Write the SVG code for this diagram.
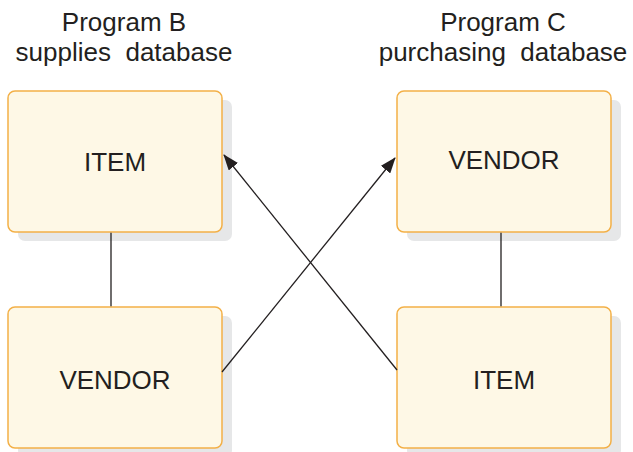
<svg xmlns="http://www.w3.org/2000/svg" width="633" height="452" viewBox="0 0 633 452">
<style>
.shadow{fill:#e6e7e8;stroke:none}
.box{fill:#fef8e6;stroke:#f3b047;stroke-width:1.5}
.lbl{font-family:"Liberation Sans",Arial,sans-serif;font-size:26px;fill:#231f20;text-anchor:middle}
.ln{stroke:#231f20;stroke-width:1.3;fill:none}
</style>
<defs>
<marker id="ah" markerWidth="16" markerHeight="12" viewBox="0 0 16 12" refX="15" refY="6" orient="auto" markerUnits="userSpaceOnUse">
<path d="M0,0 L16,6 L0,12 Z" fill="#231f20"/>
</marker>
</defs>
<g id="headers">
<text class="lbl" x="124" y="31">Program B</text>
<text class="lbl" x="124" y="61" xml:space="preserve">supplies  database</text>
<text class="lbl" x="503" y="31">Program C</text>
<text class="lbl" x="503" y="61" xml:space="preserve">purchasing  database</text>
</g>
<g id="b-item">
<rect class="shadow" x="18" y="100" width="214" height="141" rx="7"/>
<rect class="box" x="8" y="91" width="214" height="141" rx="7"/>
<text class="lbl" x="115" y="171">ITEM</text>
</g>
<g id="c-vendor">
<rect class="shadow" x="407" y="100" width="214" height="141" rx="7"/>
<rect class="box" x="397" y="91" width="214" height="141" rx="7"/>
<text class="lbl" x="504" y="169">VENDOR</text>
</g>
<g id="b-vendor">
<rect class="shadow" x="18" y="316" width="214" height="141" rx="7"/>
<rect class="box" x="8" y="307" width="214" height="141" rx="7"/>
<text class="lbl" x="115" y="389">VENDOR</text>
</g>
<g id="c-item">
<rect class="shadow" x="407" y="316" width="214" height="141" rx="7"/>
<rect class="box" x="397" y="307" width="214" height="141" rx="7"/>
<text class="lbl" x="504" y="389">ITEM</text>
</g>
<g id="connectors">
<line class="ln" x1="111" y1="232.8" x2="111" y2="306.2"/>
<line class="ln" x1="501" y1="232.8" x2="501" y2="306.2"/>
<line class="ln" x1="222" y1="372" x2="395" y2="158" marker-end="url(#ah)"/>
<line class="ln" x1="397" y1="370" x2="224" y2="155" marker-end="url(#ah)"/>
</g>
</svg>
